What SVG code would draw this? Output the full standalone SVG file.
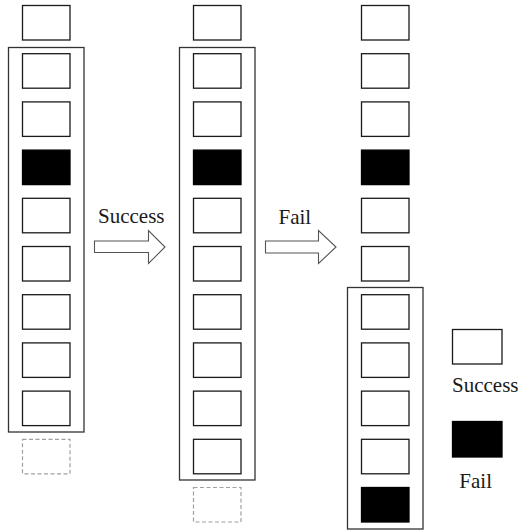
<svg xmlns="http://www.w3.org/2000/svg" width="521" height="531" viewBox="0 0 521 531">
  <style>
    .cell { fill: #ffffff; stroke: #1a1a1a; stroke-width: 1.3; }
    .cell.fail { fill: #000000; stroke: #000000; }
    .ghost { fill: none; stroke: #a0a0a0; stroke-width: 1.2; stroke-dasharray: 4 2.5; }
    .frame { fill: none; stroke: #333333; stroke-width: 1.3; }
    .arrow { fill: #ffffff; stroke: #555555; stroke-width: 1.1; stroke-linejoin: miter; }
    text { font-family: 'Liberation Serif', 'DejaVu Serif', serif; font-size: 21px; fill: #1a1a1a; }
  </style>
  <defs>
    <rect id="cell" width="47.5" height="34.5"/>
  </defs>
  <rect width="521" height="531" fill="#ffffff"/>

  <!-- Stage 1 -->
  <g id="stage1">
    <rect class="frame" x="8.5" y="47.5" width="75.5" height="384.5"/>
    <use href="#cell" class="cell" x="22.5" y="5.5"/>
    <use href="#cell" class="cell" x="22.5" y="53.7"/>
    <use href="#cell" class="cell" x="22.5" y="101.9"/>
    <use href="#cell" class="cell fail" x="22.5" y="150.1"/>
    <use href="#cell" class="cell" x="22.5" y="198.3"/>
    <use href="#cell" class="cell" x="22.5" y="246.5"/>
    <use href="#cell" class="cell" x="22.5" y="294.7"/>
    <use href="#cell" class="cell" x="22.5" y="342.9"/>
    <use href="#cell" class="cell" x="22.5" y="391.1"/>
    <use href="#cell" class="ghost" x="22.5" y="439.3"/>
  </g>

  <!-- Stage 2 -->
  <g id="stage2">
    <rect class="frame" x="179.5" y="47.5" width="75.5" height="432.5"/>
    <use href="#cell" class="cell" x="193.5" y="5.5"/>
    <use href="#cell" class="cell" x="193.5" y="53.7"/>
    <use href="#cell" class="cell" x="193.5" y="101.9"/>
    <use href="#cell" class="cell fail" x="193.5" y="150.1"/>
    <use href="#cell" class="cell" x="193.5" y="198.3"/>
    <use href="#cell" class="cell" x="193.5" y="246.5"/>
    <use href="#cell" class="cell" x="193.5" y="294.7"/>
    <use href="#cell" class="cell" x="193.5" y="342.9"/>
    <use href="#cell" class="cell" x="193.5" y="391.1"/>
    <use href="#cell" class="cell" x="193.5" y="439.3"/>
    <use href="#cell" class="ghost" x="193.5" y="487.5"/>
  </g>

  <!-- Stage 3 -->
  <g id="stage3">
    <rect class="frame" x="347.5" y="287.5" width="75.5" height="241.5"/>
    <use href="#cell" class="cell" x="361.5" y="5.5"/>
    <use href="#cell" class="cell" x="361.5" y="53.7"/>
    <use href="#cell" class="cell" x="361.5" y="101.9"/>
    <use href="#cell" class="cell fail" x="361.5" y="150.1"/>
    <use href="#cell" class="cell" x="361.5" y="198.3"/>
    <use href="#cell" class="cell" x="361.5" y="246.5"/>
    <use href="#cell" class="cell" x="361.5" y="294.7"/>
    <use href="#cell" class="cell" x="361.5" y="342.9"/>
    <use href="#cell" class="cell" x="361.5" y="391.1"/>
    <use href="#cell" class="cell" x="361.5" y="439.3"/>
    <use href="#cell" class="cell fail" x="361.5" y="487.5"/>
  </g>

  <!-- Transitions -->
  <g id="connectors">
    <polygon class="arrow" points="94.5,241 148.5,241 148.5,230.5 165,247 148.5,263.5 148.5,252.5 94.5,252.5"/>
    <polygon class="arrow" points="265.5,241 318.5,241 318.5,230.5 336,247 318.5,263.5 318.5,253 265.5,253"/>
    <text x="98" y="223" font-family="Liberation Serif, serif">Success</text>
    <text x="278.5" y="224" font-family="Liberation Serif, serif">Fail</text>
  </g>

  <!-- Legend -->
  <g id="legend-success">
    <rect class="cell" x="452.5" y="329.5" width="49.5" height="34.5"/>
    <text x="452" y="391.5" font-family="Liberation Serif, serif">Success</text>
  </g>
  <g id="legend-fail">
    <rect class="cell fail" x="452.5" y="421.5" width="49.5" height="35.5"/>
    <text x="459.3" y="488" font-family="Liberation Serif, serif">Fail</text>
  </g>
</svg>
